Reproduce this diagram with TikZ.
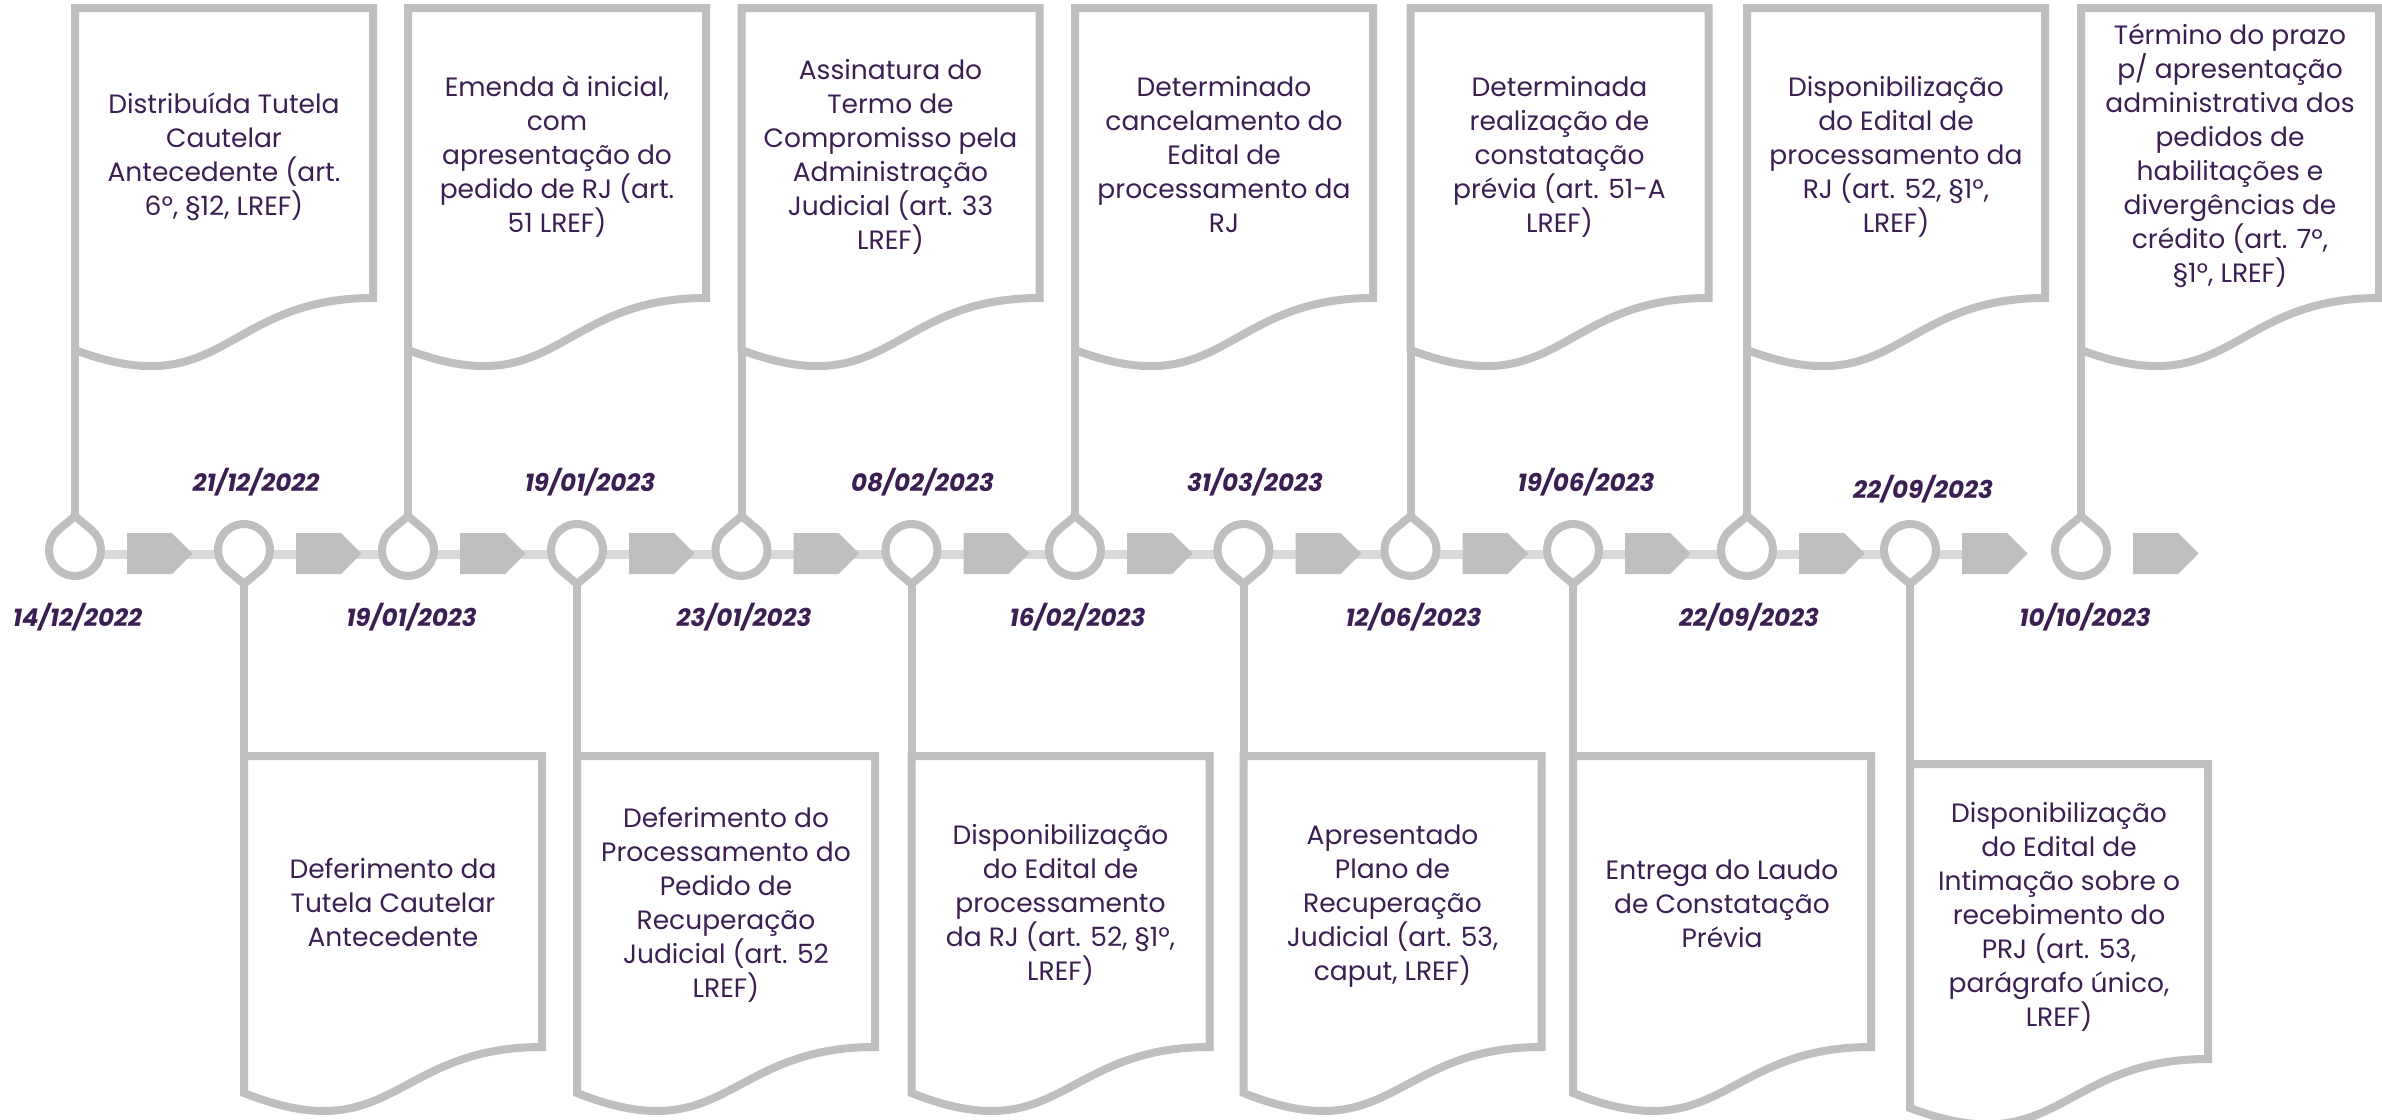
\documentclass[tikz,border=0pt]{standalone}
\usepackage{fontspec}
\newfontfamily\bodyfont{Poppins}
\newfontfamily\datefont{Poppins}
\definecolor{pinG}{HTML}{BFBFBF}
\definecolor{barG}{HTML}{D9D9D9}
\definecolor{txtP}{HTML}{3B1F52}
\tikzset{
  docline/.style={draw=pinG,line width=8pt,fill=white,line join=miter},
  pinline/.style={draw=pinG,line width=8pt,fill=white,line join=miter},
  stemline/.style={draw=pinG,line width=8pt},
  doctext/.style={font=\bodyfont\fontsize{26.5}{34}\selectfont,text=txtP,align=center,inner sep=0pt},
  datetxt/.style={font=\datefont\bfseries\itshape\fontsize{24.5}{30}\selectfont,text=txtP,inner sep=0pt,text height=18pt,text depth=0pt}
}
\newcommand\docshape[6]{%
  \draw[docline] (#2,-#3) -- ({#2+298},-#3) -- ({#2+298},{-#3-#4}) .. controls ({#2+149},{-#3-#4}) and ({#2+149},{-#3-#5}) .. (#2,{-#3-#6}) -- cycle;
  \coordinate (#1head) at (#2,-#3);
  \coordinate (#1foot) at (#2,{-#3-#6});
}
\newcommand\pinup[2]{%
  \coordinate (#1) at (#2,-550);
  \coordinate (#1tip) at (#2,-516.06);
  \draw[pinline] (#1tip) -- ([shift={(50:26)}]#1) arc[start angle=50,end angle=-230,radius=26] -- cycle;
}
\newcommand\pindown[2]{%
  \coordinate (#1) at (#2,-550);
  \coordinate (#1tip) at (#2,-583.94);
  \draw[pinline] (#1tip) -- ([shift={(-50:26)}]#1) arc[start angle=-50,end angle=230,radius=26] -- cycle;
}
\newcommand\tlarrow[1]{%
  \fill[pinG] ({#1+52},-533) -- ({#1+97},-533) -- ({#1+117.5},-553.5) -- ({#1+97},-574) -- ({#1+52},-574) -- cycle;
}
\begin{document}
\begin{tikzpicture}[x=1pt,y=1pt]
\fill[white] (0,0) rectangle (2382,-1119);
\useasboundingbox (0,0) rectangle (2382,-1119);
% timeline bar
\fill[barG] (75,-549.5) rectangle (1962,-559);
% arrows
\foreach \p in {75,244,408,577,741.5,911.5,1075,1243.5,1410.5,1573,1747,1910,2081}{\tlarrow{\p}}
% documents
\docshape{D1}{75}{8}{290}{398}{342}
\docshape{D3}{408}{8}{290}{398}{342}
\docshape{D5}{741.5}{8}{290}{398}{342}
\docshape{D7}{1075}{8}{290}{398}{342}
\docshape{D9}{1410.5}{8}{290}{398}{342}
\docshape{D11}{1747}{8}{290}{398}{342}
\docshape{D13}{2081}{8}{290}{398}{342}
\docshape{D2}{244}{756}{291}{396}{337}
\docshape{D4}{577}{756}{291}{396}{337}
\docshape{D6}{911.5}{756}{291}{396}{337}
\docshape{D8}{1243.5}{756}{291}{396}{337}
\docshape{D10}{1573}{756}{291}{396}{337}
\docshape{D12}{1910}{764}{295}{400}{344}
% pins
\pinup{P1}{75}
\pindown{P2}{244}
\pinup{P3}{408}
\pindown{P4}{577}
\pinup{P5}{741.5}
\pindown{P6}{911.5}
\pinup{P7}{1075}
\pindown{P8}{1243.5}
\pinup{P9}{1410.5}
\pindown{P10}{1573}
\pinup{P11}{1747}
\pindown{P12}{1910}
\pinup{P13}{2081}
% stems
\foreach \i in {1,3,5,7,9,11,13}{\draw[stemline] (P\i tip) -- (D\i foot);}
\foreach \i in {2,4,6,8,10,12}{\draw[stemline] (P\i tip) -- (D\i head);}
% texts top
\node[doctext] (T1) at (224,-155) {\rule{0pt}{27pt}Distribuída Tutela\\Cautelar\\Antecedente (art.\\6º, §12, LREF)\rule[-9pt]{0pt}{9pt}};
\node[doctext] (T3) at (557,-155) {\rule{0pt}{27pt}Emenda à inicial,\\com\\apresentação do\\pedido de RJ (art.\\51 LREF)\rule[-9pt]{0pt}{9pt}};
\node[doctext] (T5) at (890.5,-155) {\rule{0pt}{27pt}Assinatura do\\Termo de\\Compromisso pela\\Administração\\Judicial (art. 33\\LREF)\rule[-9pt]{0pt}{9pt}};
\node[doctext] (T7) at (1224,-155) {\rule{0pt}{27pt}Determinado\\cancelamento do\\Edital de\\processamento da\\RJ\rule[-9pt]{0pt}{9pt}};
\node[doctext] (T9) at (1559.5,-155) {\rule{0pt}{27pt}Determinada\\realização de\\constatação\\prévia (art. 51-A\\LREF)\rule[-9pt]{0pt}{9pt}};
\node[doctext] (T11) at (1896,-155) {\rule{0pt}{27pt}Disponibilização\\do Edital de\\processamento da\\RJ (art. 52, §1º,\\LREF)\rule[-9pt]{0pt}{9pt}};
\node[doctext] (T13) at (2230,-154) {\rule{0pt}{27pt}Término do prazo\\p/ apresentação\\administrativa dos\\pedidos de\\habilitações e\\divergências de\\crédito (art. 7º,\\§1º, LREF)\rule[-9pt]{0pt}{9pt}};
% texts bottom
\node[doctext] (T2) at (393,-903) {\rule{0pt}{27pt}Deferimento da\\Tutela Cautelar\\Antecedente\rule[-9pt]{0pt}{9pt}};
\node[doctext] (T4) at (726,-903) {\rule{0pt}{27pt}Deferimento do\\Processamento do\\Pedido de\\Recuperação\\Judicial (art. 52\\LREF)\rule[-9pt]{0pt}{9pt}};
\node[doctext] (T6) at (1060.5,-903) {\rule{0pt}{27pt}Disponibilização\\do Edital de\\processamento\\da RJ (art. 52, §1º,\\LREF)\rule[-9pt]{0pt}{9pt}};
\node[doctext] (T8) at (1392.5,-903) {\rule{0pt}{27pt}Apresentado\\Plano de\\Recuperação\\Judicial (art. 53,\\caput, LREF)\rule[-9pt]{0pt}{9pt}};
\node[doctext] (T10) at (1722,-904) {\rule{0pt}{27pt}Entrega do Laudo\\de Constatação\\Prévia\rule[-9pt]{0pt}{9pt}};
\node[doctext] (T12) at (2059,-915) {\rule{0pt}{27pt}Disponibilização\\do Edital de\\Intimação sobre o\\recebimento do\\PRJ (art. 53,\\parágrafo único,\\LREF)\rule[-9pt]{0pt}{9pt}};
% dates below line
\node[datetxt] (L1) at (77.5,-617) {14/12/2022};
\node[datetxt] (L3) at (411.5,-617) {19/01/2023};
\node[datetxt] (L5) at (744,-617) {23/01/2023};
\node[datetxt] (L7) at (1077.5,-617) {16/02/2023};
\node[datetxt] (L9) at (1413.5,-617) {12/06/2023};
\node[datetxt] (L11) at (1749,-617) {22/09/2023};
\node[datetxt] (L13) at (2085,-617) {10/10/2023};
% dates above line
\node[datetxt] (L2) at (256,-482) {21/12/2022};
\node[datetxt] (L4) at (590,-482) {19/01/2023};
\node[datetxt] (L6) at (922.5,-482) {08/02/2023};
\node[datetxt] (L8) at (1255,-482) {31/03/2023};
\node[datetxt] (L10) at (1586,-482) {19/06/2023};
\node[datetxt] (L12) at (1923,-489) {22/09/2023};
\end{tikzpicture}
\end{document}
